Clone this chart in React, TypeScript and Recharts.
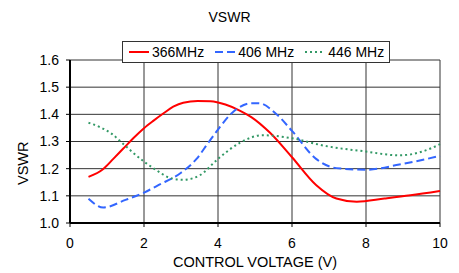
import { CartesianGrid, Legend, Line, LineChart, XAxis, YAxis } from "recharts";

// series (x = control voltage, y = VSWR)
const mhz366 = [
  { x: 0.5, y: 1.17 }, { x: 0.9, y: 1.199 }, { x: 1.17, y: 1.236 }, { x: 1.44, y: 1.274 },
  { x: 1.71, y: 1.312 }, { x: 2.0, y: 1.349 }, { x: 2.25, y: 1.376 }, { x: 2.52, y: 1.403 },
  { x: 2.79, y: 1.428 }, { x: 3.06, y: 1.443 }, { x: 3.45, y: 1.449 }, { x: 3.8, y: 1.448 },
  { x: 4.2, y: 1.436 }, { x: 4.6, y: 1.413 }, { x: 4.9, y: 1.39 }, { x: 5.4, y: 1.333 },
  { x: 6.0, y: 1.242 }, { x: 6.65, y: 1.14 }, { x: 7.2, y: 1.09 }, { x: 7.75, y: 1.078 },
  { x: 8.5, y: 1.09 }, { x: 9.2, y: 1.102 }, { x: 10, y: 1.118 },
];

const mhz406 = [
  { x: 0.5, y: 1.089 }, { x: 0.9, y: 1.057 }, { x: 1.5, y: 1.085 }, { x: 2.0, y: 1.112 },
  { x: 2.4, y: 1.14 }, { x: 3.0, y: 1.185 }, { x: 3.42, y: 1.236 }, { x: 3.74, y: 1.296 },
  { x: 4.0, y: 1.344 }, { x: 4.4, y: 1.408 }, { x: 4.9, y: 1.441 }, { x: 5.1, y: 1.441 },
  { x: 5.6, y: 1.398 }, { x: 6.0, y: 1.339 }, { x: 6.65, y: 1.236 }, { x: 7.2, y: 1.202 },
  { x: 8.0, y: 1.196 }, { x: 8.9, y: 1.215 }, { x: 10, y: 1.247 },
];

const mhz446 = [
  { x: 0.5, y: 1.369 }, { x: 0.81, y: 1.353 }, { x: 1.13, y: 1.328 }, { x: 1.4, y: 1.296 },
  { x: 1.67, y: 1.263 }, { x: 2.0, y: 1.226 }, { x: 2.34, y: 1.194 }, { x: 2.7, y: 1.166 },
  { x: 3.06, y: 1.159 }, { x: 3.5, y: 1.175 }, { x: 4.0, y: 1.236 }, { x: 4.6, y: 1.296 },
  { x: 5.2, y: 1.323 }, { x: 6.0, y: 1.312 }, { x: 6.85, y: 1.285 }, { x: 8.0, y: 1.263 },
  { x: 8.9, y: 1.249 }, { x: 9.5, y: 1.262 }, { x: 10, y: 1.29 },
];

const xTicks = [0, 2, 4, 6, 8, 10];
const yTicks = [1.0, 1.1, 1.2, 1.3, 1.4, 1.5, 1.6];

const series = [
  { name: "366MHz", data: mhz366, color: "#ff0000", dash: undefined },
  { name: "406 MHz", data: mhz406, color: "#3366ff", dash: "8 4" },
  { name: "446 MHz", data: mhz446, color: "#339966", dash: "2 3" },
];

const font = "'Liberation Sans', Arial, sans-serif";

function LegendBox() {
  return (
    <div
      style={{
        display: "flex",
        alignItems: "center",
        height: 20,
        padding: "0 5px 0 6px",
        background: "#fff",
        border: "1px solid #333",
        fontFamily: font,
        fontSize: 14,
        color: "#000",
        whiteSpace: "nowrap",
      }}
    >
      {series.map((s, i) => (
        <span key={s.name} style={{ display: "flex", alignItems: "center", marginLeft: i ? 11 : 0 }}>
          <svg width={20} height={6} style={{ marginRight: 3 }}>
            <line x1={0} y1={3} x2={20} y2={3} stroke={s.color} strokeWidth={2} strokeDasharray={s.dash} />
          </svg>
          {s.name}
        </span>
      ))}
    </div>
  );
}

export default function App() {
  return (
    <div style={{ position: "fixed", left: 0, top: 0, width: 459, height: 273, background: "#fff" }}>
      <div
        style={{
          position: "absolute",
          top: 9,
          width: 459,
          textAlign: "center",
          fontFamily: font,
          fontSize: 14,
          color: "#000",
        }}
      >
        VSWR
      </div>
      <LineChart width={459} height={273} margin={{ top: 38, right: 19, bottom: 20, left: 30 }}>
        <CartesianGrid stroke="#333" strokeWidth={1} />
        <XAxis
          type="number"
          dataKey="x"
          domain={[0, 10]}
          ticks={xTicks}
          tick={{ fill: "#000", fontSize: 14, fontFamily: font }}
          tickLine={{ stroke: "#000" }}
          tickSize={4}
          tickMargin={11}
          axisLine={{ stroke: "#000", strokeWidth: 2 }}
          height={30}
          label={{ value: "CONTROL VOLTAGE (V)", position: "bottom", offset: 4, fill: "#000", fontSize: 14.5, fontFamily: font }}
        />
        <YAxis
          type="number"
          domain={[1.0, 1.6]}
          ticks={yTicks}
          tickFormatter={(v: number) => v.toFixed(1)}
          tick={{ fill: "#000", fontSize: 14, fontFamily: font }}
          tickLine={{ stroke: "#000" }}
          tickSize={4}
          tickMargin={7}
          axisLine={{ stroke: "#000", strokeWidth: 2 }}
          width={40}
          label={{ value: "VSWR", angle: -90, position: "left", offset: 7, fill: "#000", fontSize: 14.5, fontFamily: font }}
        />
        <Legend
          verticalAlign="top"
          align="left"
          wrapperStyle={{ left: 122, top: 41, width: "auto" }}
          content={() => <LegendBox />}
        />
        {series.map((s) => (
          <Line
            key={s.name}
            data={s.data}
            dataKey="y"
            name={s.name}
            type="monotone"
            stroke={s.color}
            strokeWidth={2}
            strokeDasharray={s.dash}
            dot={false}
            activeDot={false}
            isAnimationActive={false}
          />
        ))}
      </LineChart>
    </div>
  );
}
